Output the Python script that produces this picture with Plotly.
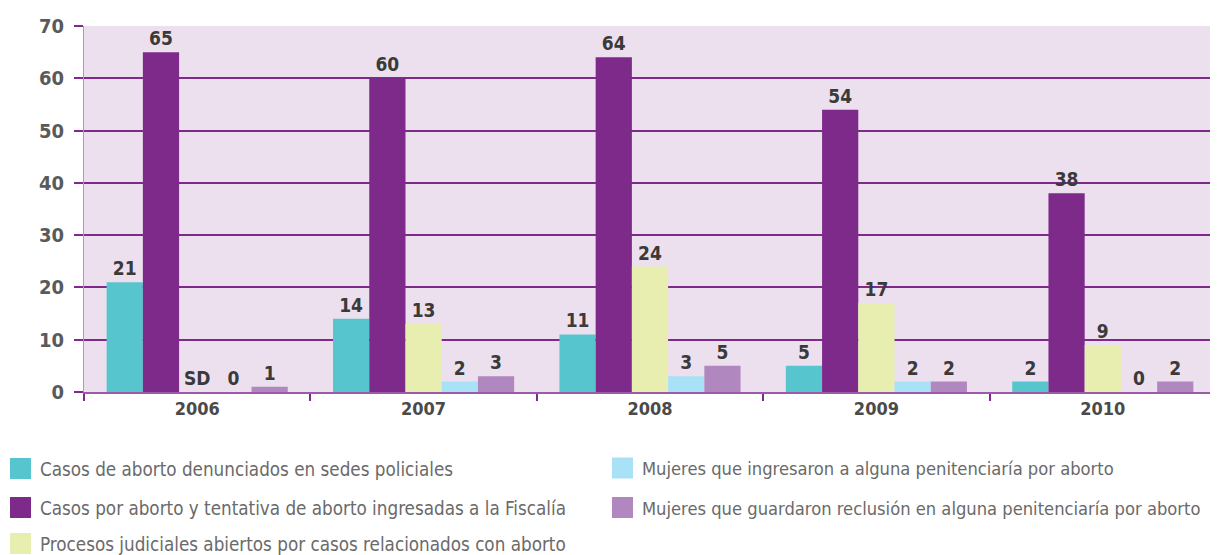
import plotly.graph_objects as go

years = ["2006", "2007", "2008", "2009", "2010"]
series_names = [
    "Casos de aborto denunciados en sedes policiales",
    "Casos por aborto y tentativa de aborto ingresadas a la Fiscalía",
    "Procesos judiciales abiertos por casos relacionados con aborto",
    "Mujeres que ingresaron a alguna penitenciaría por aborto",
    "Mujeres que guardaron reclusión en alguna penitenciaría por aborto",
]
policiales = [21, 14, 11, 5, 2]
fiscalia = [65, 60, 64, 54, 38]
procesos = [0, 13, 24, 17, 9]
ingresaron = [0, 2, 3, 2, 0]
reclusion = [1, 3, 5, 2, 2]
procesos_labels = ["SD", "13", "24", "17", "9"]

colors = ["#56c5ce", "#7e2a8b", "#e8eeb0", "#a9e1f6", "#b088bf"]
values = [policiales, fiscalia, procesos, ingresaron, reclusion]
labels = [[str(v) for v in policiales], [str(v) for v in fiscalia], procesos_labels,
          [str(v) for v in ingresaron], [str(v) for v in reclusion]]

FONT = "Liberation Sans Narrow, DejaVu Sans Condensed, Arial Narrow, sans-serif"

# page offset (browser body margin) compensation
OFF = 8
W, H = 1218 - OFF, 555 - OFF
L, R, T, B = 84 - OFF, 2, 26 - OFF, 163
PL, PR, PT, PB = 84, 1216, 26, 392  # plot area in page pixels

fig = go.Figure()
for name, vals, lab, col in zip(series_names, values, labels, colors):
    fig.add_trace(go.Bar(
        x=years, y=vals, name=name, marker_color=col, marker_line_width=0,
        text=lab, textposition="outside", cliponaxis=False,
        textfont=dict(family=FONT, size=19, color="#3a3a3a", weight="bold"),
        showlegend=False,
    ))

fig.update_layout(
    width=W, height=H,
    margin=dict(l=L, r=R, t=T, b=B),
    barmode="group", bargap=0.2, bargroupgap=0,
    plot_bgcolor="#ede0ee", paper_bgcolor="white",
    font=dict(family=FONT),
)
fig.update_yaxes(
    range=[0, 70], dtick=10, showgrid=True, gridcolor="#7e2a8b", gridwidth=2,
    ticks="outside", ticklen=9, tickcolor="#7e2a8b", tickwidth=2,
    ticklabelstandoff=6,
    tickfont=dict(family=FONT, size=20, color="#5a5a5a", weight="bold"),
    showline=True, linecolor="#b892c4", linewidth=1, mirror=False,
    zeroline=False,
)
fig.update_xaxes(
    showline=True, linecolor="#9c5aa8", linewidth=1.5,
    ticks="outside", tickson="boundaries", ticklen=7, tickcolor="#7e2a8b", tickwidth=2,
    tickfont=dict(family=FONT, size=18, color="#4a4a4a", weight="bold"),
)
# right border
fig.add_shape(type="line", xref="paper", yref="paper", x0=1, x1=1, y0=0, y1=1,
              line=dict(color="#b892c4", width=1.5))


def xp(p):
    return (p - PL) / (PR - PL)


def yp(p):
    return (PB - p) / (PB - PT)


# manual legend (page pixel anchors: square left x, row centre y, font size)
legend_pos = [(10, 468.5, 18.7), (10, 507.5, 18.7), (10, 543.5, 18.7),
              (612, 468, 18.2), (612, 507.5, 18.2)]
for name, col, (px, py, fs) in zip(series_names, colors, legend_pos):
    fig.add_shape(type="rect", xref="paper", yref="paper",
                  x0=xp(px), x1=xp(px + 21), y0=yp(py + 10.5), y1=yp(py - 10.5),
                  line_width=0, fillcolor=col)
    fig.add_annotation(xref="paper", yref="paper", x=xp(px + 28), y=yp(py + 1),
                       xanchor="left", yanchor="middle", showarrow=False,
                       text=name, font=dict(family=FONT, size=fs, color="#6a6a6a"))

fig.write_html("out.html")
